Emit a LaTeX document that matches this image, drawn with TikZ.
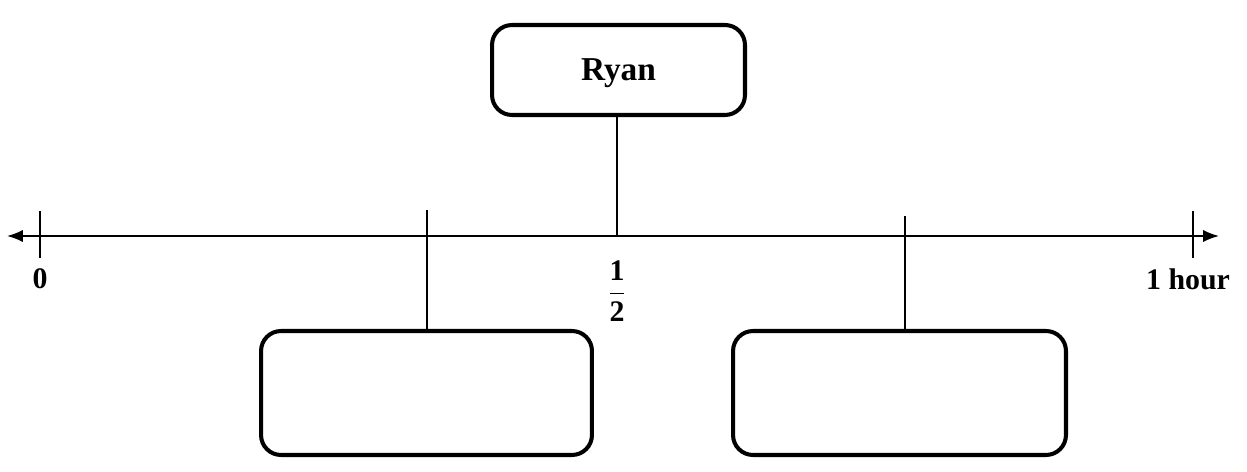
\documentclass[tikz,border=0pt]{standalone}
\usepackage{fontspec}
\setmainfont{Liberation Serif}
\usetikzlibrary{arrows.meta}
\begin{document}
\begin{tikzpicture}[x=0.02cm,y=-0.02cm,>={Latex[length=9pt,width=7pt]}]
\tikzset{
  namebox/.style={draw,line width=2.3pt,rounded corners=0.4cm,inner sep=0pt},
  tick/.style={line width=1pt},
  axislabel/.style={font=\fontsize{17}{20}\selectfont\bfseries}
}
\useasboundingbox (0,0) rectangle (1247,472);
% number line
\coordinate (lend) at (7,236);
\coordinate (rend) at (1219,236);
\draw [<->,line width=1.1pt] (lend) -- (rend);
\coordinate (zerotop) at (40,211);
\coordinate (zerobot) at (40,258);
\draw [tick] (zerotop) -- (zerobot);
\coordinate (hourtop) at (1193,211);
\coordinate (hourbot) at (1193,258);
\draw [tick] (hourtop) -- (hourbot);
\node [axislabel] (zero) at (40,279) {0};
\node [axislabel] (hour) at (1188,279) {1 hour};
\node [font=\fontsize{17}{20}\selectfont] (half) at (617,291) {$\displaystyle\frac{\mbox{\bfseries 1}}{\mbox{\bfseries 2}}$};
% boxes
\node [namebox,minimum width=5.06cm,minimum height=1.8cm,font=\fontsize{19}{22}\selectfont\bfseries] (ryan) at (618.5,70) {\raisebox{-5.7pt}[0pt][0pt]{Ryan}};
\node [namebox,minimum width=6.62cm,minimum height=2.48cm] (boxleft) at (426.5,393) {};
\node [namebox,minimum width=6.66cm,minimum height=2.48cm] (boxright) at (899.5,393) {};
% connectors
\coordinate (ryanfoot) at (617,236);
\draw [tick] (ryan.south -| ryanfoot) -- (ryanfoot);
\coordinate (lefttop) at (427,210);
\draw [tick] (lefttop) -- (boxleft.north -| lefttop);
\coordinate (righttop) at (905,216);
\draw [tick] (righttop) -- (boxright.north -| righttop);
\end{tikzpicture}
\end{document}
